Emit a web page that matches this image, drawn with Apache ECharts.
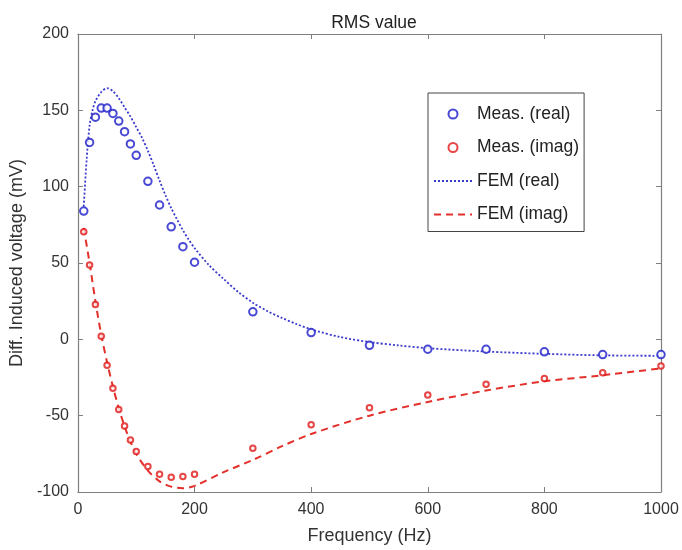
<!DOCTYPE html>
<html>
<head>
<meta charset="utf-8">
<script src="https://cdn.jsdelivr.net/npm/echarts@6/dist/echarts.min.js"></script>
<style>html,body{margin:0;padding:0;background:#fff;}#c{width:682px;height:550px;}</style>
</head>
<body>
<div id="c"></div>
<script>
// Measured points
const measFreq = [10,20,30,40,50,60,70,80,90,100,120,140,160,180,200,300,400,500,600,700,800,900,1000];
const measReal = [84,129,145.5,151.5,151.5,148,143,136,128,120.5,103.5,88,73.7,60.7,50.5,18,4.4,-3.9,-6.5,-6.5,-8.2,-10,-10];
const measImag = [70.5,48.7,22.8,2,-17,-32,-46,-56.7,-66,-73.5,-83.3,-88.3,-90.4,-89.8,-88.3,-71.3,-56,-44.8,-36.5,-29.5,-25.6,-21.9,-17.4];
// FEM curves
const femRealFreq = [10,15,20,25,30,40,50,60,70,80,90,100,110,120,130,140,150,160,170,180,190,200,225,250,275,300,325,350,375,400,450,500,550,600,700,800,900,1000];
const femReal = [87,118,140,150,156,162,164.5,162.5,158,152,146,139,132,123.5,114,104,94.5,86,78.5,71.5,65.3,59.8,48.5,39.5,31,24,18.5,14,10,6.5,1.5,-1.8,-4,-5.8,-8,-9.5,-10.5,-10.8];
const femImagFreq = [10,20,30,40,50,60,70,80,90,100,120,140,160,180,200,250,300,350,400,500,600,700,800,900,1000];
const femImag = [73,50,25,3,-15,-31,-45,-57,-67,-75,-86,-93,-96.5,-97.5,-96,-87,-79,-70,-62,-50,-41,-33.5,-27.5,-23.5,-19];
const xTicks = [0,200,400,600,800,1000];
const yTicks = [-100,-50,0,50,100,150,200];

const zip = (a,b)=>a.map((v,i)=>[v,b[i]]);
const FONT = 'Liberation Sans, Arial, sans-serif';
const axisColor = '#7f7f7f';
const labelColor = '#333';

const chart = echarts.init(document.getElementById('c'), null, {renderer:'canvas'});
const baseX = {
  type:'value', min:xTicks[0], max:xTicks[xTicks.length-1], interval:200,
  axisLine:{show:true, onZero:false, lineStyle:{color:axisColor, width:1.2}},
  axisTick:{show:true, inside:true, length:5, lineStyle:{color:axisColor}},
  splitLine:{show:false}
};
const baseY = {
  type:'value', min:yTicks[0], max:yTicks[yTicks.length-1], interval:50,
  axisLine:{show:true, onZero:false, lineStyle:{color:axisColor, width:1.2}},
  axisTick:{show:true, inside:true, length:5, lineStyle:{color:axisColor}},
  splitLine:{show:false}
};
chart.setOption({
  animation:false,
  backgroundColor:'#fff',
  title:{text:'RMS value', left:369, top:9, textAlign:'center',
    textStyle:{fontFamily:FONT, fontSize:17.5, fontWeight:'normal', color:'#222'}},
  grid:{left:77, right:21, top:34, bottom:56, containLabel:false},
  legend:{
    orient:'vertical', left:428, top:93,
    padding:[12,5,8,5], itemGap:15.5, itemWidth:38, itemHeight:9,
    borderColor:'#444', borderWidth:1, backgroundColor:'#fff',
    textStyle:{fontFamily:FONT, fontSize:17.5, color:'#222'},
    data:['Meas. (real)','Meas. (imag)',
      {name:'FEM (real)', itemStyle:{opacity:0}},
      {name:'FEM (imag)', itemStyle:{opacity:0}}]
  },
  xAxis:[
    Object.assign({}, baseX, {position:'bottom', name:'Frequency (Hz)', nameLocation:'middle', nameGap:35,
      nameTextStyle:{fontFamily:FONT, fontSize:18, color:labelColor},
      axisLabel:{show:true, margin:10, fontFamily:FONT, fontSize:16, color:labelColor, formatter:v=>String(v)}}),
    Object.assign({}, baseX, {position:'top', axisLabel:{show:false}})
  ],
  yAxis:[
    Object.assign({}, baseY, {position:'left', name:'Diff. Induced voltage (mV)', nameLocation:'middle', nameGap:50, nameRotate:90,
      nameTextStyle:{fontFamily:FONT, fontSize:18, color:labelColor},
      axisLabel:{show:true, margin:9, fontFamily:FONT, fontSize:16, color:labelColor, formatter:v=>String(v)}}),
    Object.assign({}, baseY, {position:'right', axisLabel:{show:false}})
  ],
  series:[
    {name:'FEM (real)', type:'line', data:zip(femRealFreq, femReal), symbol:'none', smooth:0.3,
      lineStyle:{color:'#3a3acc', width:1.8, type:[2,2]}, itemStyle:{color:'#3a3acc'}, z:2},
    {name:'FEM (imag)', type:'line', data:zip(femImagFreq, femImag), symbol:'none', smooth:0.3,
      lineStyle:{color:'#e3302a', width:2, type:[7,5]}, itemStyle:{color:'#e3302a'}, z:2},
    {name:'Meas. (real)', type:'scatter', data:zip(measFreq, measReal), symbol:'emptyCircle', symbolSize:7.5,
      itemStyle:{color:'#1c1cc8', borderColor:'#1c1cc8', borderWidth:2.2}, z:3},
    {name:'Meas. (imag)', type:'scatter', data:zip(measFreq, measImag), symbol:'emptyCircle', symbolSize:5.5,
      itemStyle:{color:'#e01818', borderColor:'#e01818', borderWidth:2.2}, z:3}
  ]
});
</script>
</body>
</html>
